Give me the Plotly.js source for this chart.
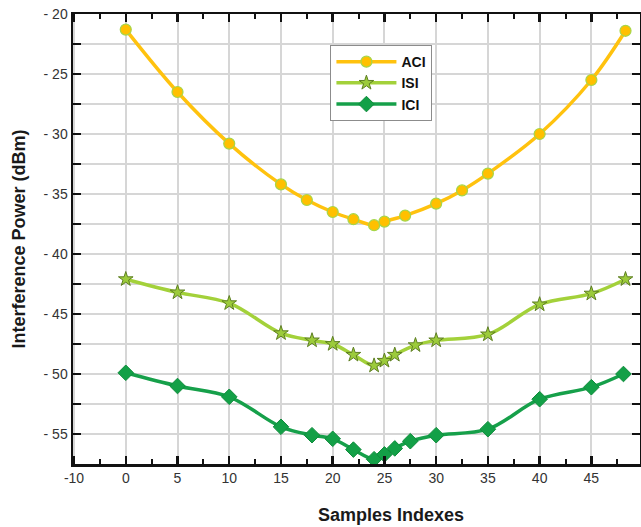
<!DOCTYPE html>
<html>
<head>
<meta charset="utf-8">
<script src="https://cdn.plot.ly/plotly-3.0.1.min.js"></script>
<style>
  html, body { margin: 0; padding: 0; background: #ffffff; }
  #chart { width: 641px; height: 527px; }
</style>
</head>
<body>
<div id="chart"></div>
<script>
// ---- Data ----
var seriesNames = ["ACI", "ISI", "ICI"];

var aciX = [0, 5, 10, 15, 17.5, 20, 22, 24, 25, 27, 30, 32.5, 35, 40, 45, 48.3];
var aciY = [-21.3, -26.5, -30.8, -34.2, -35.5, -36.5, -37.1, -37.6, -37.3, -36.8, -35.8, -34.7, -33.3, -30.0, -25.5, -21.4];

var isiX = [0, 5, 10, 15, 18, 20, 22, 24, 25, 26, 28, 30, 35, 40, 45, 48.3];
var isiY = [-42.1, -43.2, -44.1, -46.6, -47.2, -47.5, -48.4, -49.3, -48.9, -48.4, -47.6, -47.2, -46.7, -44.2, -43.3, -42.1];

var iciX = [0, 5, 10, 15, 18, 20, 22, 24, 25, 26, 27.5, 30, 35, 40, 45, 48.1];
var iciY = [-49.9, -51.0, -51.9, -54.4, -55.1, -55.4, -56.3, -57.1, -56.7, -56.2, -55.6, -55.1, -54.6, -52.1, -51.1, -50.0];

var xTickVals = [-5, 0, 5, 10, 15, 20, 25, 30, 35, 40, 45];
var xTickText = ["-10", "0", "5", "10", "15", "20", "25", "30", "35", "40", "45"];
var yTickVals = [-20, -25, -30, -35, -40, -45, -50, -55];
var yTickText = ["- 20", "- 25", "- 30", "- 35", "- 40", "- 45", "- 50", "- 55"];

var xTitle = "Samples Indexes";
var yTitle = "Interference Power (dBm)";

// ---- Traces ----
var traces = [
  {
    x: aciX, y: aciY, name: seriesNames[0], type: "scatter", mode: "lines+markers",
    line: { color: "#FFC20E", width: 3.5, shape: "spline" },
    marker: { symbol: "circle", size: 11, color: "#FFC000", line: { color: "#A6D64A", width: 1.2 } }
  },
  {
    x: isiX, y: isiY, name: seriesNames[1], type: "scatter", mode: "lines+markers",
    line: { color: "#A3D13A", width: 3.5, shape: "spline" },
    marker: { symbol: "star", size: 11, color: "#9CCB3B", line: { color: "#5E7F22", width: 1 } }
  },
  {
    x: iciX, y: iciY, name: seriesNames[2], type: "scatter", mode: "lines+markers",
    line: { color: "#16A04A", width: 3.5, shape: "spline" },
    marker: { symbol: "diamond", size: 12, color: "#13A047", line: { color: "#0F8C3C", width: 1 } }
  }
];

var axisFont = { family: "Liberation Sans, Arial, sans-serif", size: 14, color: "#333333" };

var layout = {
  width: 641, height: 527,
  margin: { l: 73, r: 1, t: 14, b: 63 },
  paper_bgcolor: "#ffffff", plot_bgcolor: "#ffffff",
  showlegend: true,
  legend: {
    x: 0.454, y: 0.931, xanchor: "left", yanchor: "top",
    bgcolor: "#ffffff", bordercolor: "#8c8c8c", borderwidth: 1,
    font: { family: "Liberation Sans, Arial, sans-serif", size: 14, color: "#111111", weight: "bold" },
    tracegroupgap: 0, itemwidth: 60
  },
  xaxis: {
    range: [-5.1, 49.7],
    tickmode: "array", tickvals: xTickVals, ticktext: xTickText,
    ticks: "inside", ticklen: 8, tickwidth: 2.5, tickcolor: "#111111",
    showline: true, linecolor: "#111111", linewidth: 2.5, mirror: "ticks",
    showgrid: true, gridcolor: "#d6d6d6", gridwidth: 2,
    zeroline: false,
    tickfont: axisFont,
    minor: { tickmode: "linear", tick0: 0, dtick: 2.5, ticks: "inside", ticklen: 5, tickwidth: 2, tickcolor: "#111111", showgrid: false }
  },
  yaxis: {
    range: [-57.5, -20],
    tickmode: "array", tickvals: yTickVals, ticktext: yTickText,
    ticks: "inside", ticklen: 8, tickwidth: 2.5, tickcolor: "#111111",
    showline: true, linecolor: "#111111", linewidth: 2.5, mirror: "ticks",
    showgrid: true, gridcolor: "#d6d6d6", gridwidth: 2,
    zeroline: false,
    tickfont: axisFont,
    minor: { tickmode: "linear", tick0: 0, dtick: 2.5, ticks: "inside", ticklen: 8, tickwidth: 2, tickcolor: "#111111", showgrid: true, gridcolor: "#d6d6d6", gridwidth: 2 },
    title: { text: yTitle, font: { family: "Liberation Sans, Arial, sans-serif", size: 18, color: "#1a1a1a", weight: "bold" }, standoff: 14 }
  },
  annotations: [
    {
      text: xTitle, xref: "paper", yref: "paper", x: 0.56, y: -0.113,
      xanchor: "center", yanchor: "middle", showarrow: false,
      font: { family: "Liberation Sans, Arial, sans-serif", size: 18, color: "#1a1a1a", weight: "bold" }
    }
  ]
};

Plotly.newPlot("chart", traces, layout, { displayModeBar: false, staticPlot: true });
</script>
</body>
</html>
